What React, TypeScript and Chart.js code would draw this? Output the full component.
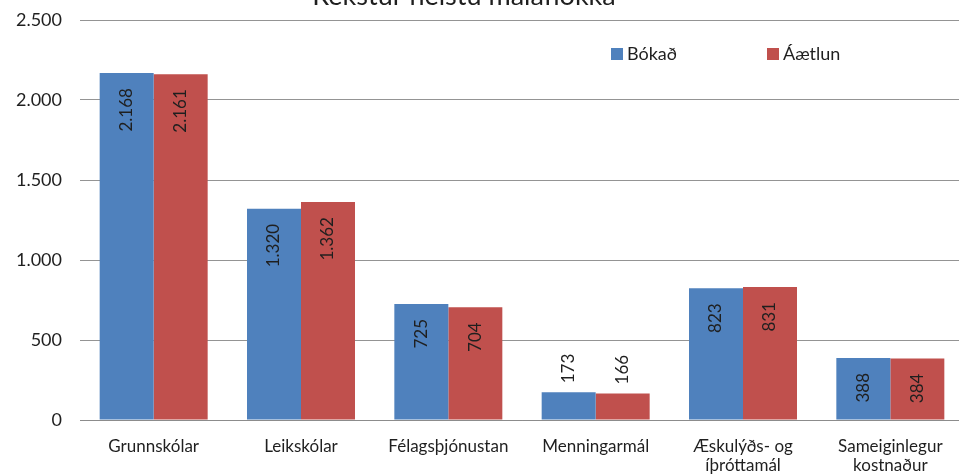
import React, { useEffect, useRef } from "react";
import { Chart, registerables } from "chart.js";

Chart.register(...registerables);

const TITLE = "Rekstur helstu málaflokka";
const categories: (string | string[])[] = [
  "Grunnskólar",
  "Leikskólar",
  "Félagsþjónustan",
  "Menningarmál",
  ["Æskulýðs- og", "íþróttamál"],
  ["Sameiginlegur", "kostnaður"],
];
const seriesNames = ["Bókað", "Áætlun"];
const bokad = [2168, 1320, 725, 173, 823, 388];
const aaetlun = [2161, 1362, 704, 166, 831, 384];
const yMin = 0;
const yMax = 2500;
const yStep = 500;

const BLUE = "#4F81BD";
const RED = "#C0504D";
const FONT = "Lato";
const TEXT = "#1f1f1f";

const fmt = (v: number) =>
  String(Math.round(v)).replace(/\B(?=(\d{3})+(?!\d))/g, ".");

const dataLabelPlugin = {
  id: "dataLabels",
  afterDatasetsDraw(chart: any) {
    const ctx = chart.ctx;
    ctx.save();
    ctx.font = `17px ${FONT}`;
    ctx.fillStyle = TEXT;
    ctx.textBaseline = "middle";
    chart.data.datasets.forEach((ds: any, di: number) => {
      const meta = chart.getDatasetMeta(di);
      meta.data.forEach((bar: any, i: number) => {
        const txt = fmt(ds.data[i]);
        const w = ctx.measureText(txt).width;
        const h = bar.base - bar.y;
        ctx.save();
        if (h >= w + 30) {
          ctx.translate(bar.x, bar.y + 15);
          ctx.rotate(-Math.PI / 2);
          ctx.textAlign = "right";
        } else {
          ctx.translate(bar.x, bar.y - 9);
          ctx.rotate(-Math.PI / 2);
          ctx.textAlign = "left";
        }
        ctx.fillText(txt, 0, 0);
        ctx.restore();
      });
    });
    ctx.restore();
  },
};

const titleLegendPlugin = {
  id: "titleLegend",
  afterDraw(chart: any) {
    const ctx = chart.ctx;
    const area = chart.chartArea;
    ctx.save();
    // title (cropped at top as in the reference)
    ctx.font = `27px ${FONT}`;
    ctx.fillStyle = TEXT;
    ctx.textAlign = "center";
    ctx.textBaseline = "alphabetic";
    ctx.fillText(TITLE, 464, 5);
    // legend
    const startX = [area.left + 531, area.left + 687];
    ctx.font = `18px ${FONT}`;
    ctx.textAlign = "left";
    ctx.textBaseline = "middle";
    chart.data.datasets.forEach((ds: any, i: number) => {
      const x = startX[i];
      const y = area.top + 34;
      ctx.fillStyle = ds.backgroundColor;
      ctx.fillRect(x, y - 6, 12, 12);
      ctx.fillStyle = TEXT;
      ctx.fillText(ds.label, x + 16, y);
    });
    ctx.restore();
  },
};

export default function App() {
  const ref = useRef<HTMLCanvasElement | null>(null);
  useEffect(() => {
    if (!ref.current) return;
    const chart = new Chart(ref.current, {
      type: "bar",
      data: {
        labels: categories as any,
        datasets: [
          { label: seriesNames[0], data: bokad, backgroundColor: BLUE },
          { label: seriesNames[1], data: aaetlun, backgroundColor: RED },
        ],
      },
      options: {
        responsive: false,
        animation: false,
        layout: { padding: { top: 20, right: 0, left: 0, bottom: 0 } },
        datasets: {
          bar: { categoryPercentage: 0.733, barPercentage: 1 },
        },
        plugins: {
          legend: { display: false },
          title: { display: false },
          tooltip: { enabled: false },
        },
        scales: {
          x: {
            grid: { display: false },
            border: { display: true, color: "#8c8c8c", width: 1 },
            ticks: {
              color: TEXT,
              font: { family: FONT, size: 17, lineHeight: 1.1 },
              padding: 9,
              maxRotation: 0,
              autoSkip: false,
            },
            afterFit: (s: any) => {
              s.height = 54;
              s.paddingLeft = 0;
              s.paddingRight = 0;
            },
          },
          y: {
            min: yMin,
            max: yMax,
            grid: { color: "#949494", lineWidth: 1, drawTicks: false },
            border: { display: false },
            ticks: {
              stepSize: yStep,
              color: TEXT,
              font: { family: FONT, size: 18 },
              padding: 18,
              callback: (v: any) => fmt(Number(v)),
            },
            afterFit: (s: any) => {
              s.width = 80;
              s.paddingTop = 0;
              s.paddingBottom = 0;
            },
          },
        },
      },
      plugins: [dataLabelPlugin, titleLegendPlugin],
    });
    return () => chart.destroy();
  }, []);
  return (
    <div
      style={{
        position: "fixed",
        left: 0,
        top: 0,
        width: 959,
        height: 474,
        overflow: "hidden",
        background: "#fff",
      }}
    >
      <canvas ref={ref} width={964} height={474} style={{ display: "block" }} />
    </div>
  );
}
